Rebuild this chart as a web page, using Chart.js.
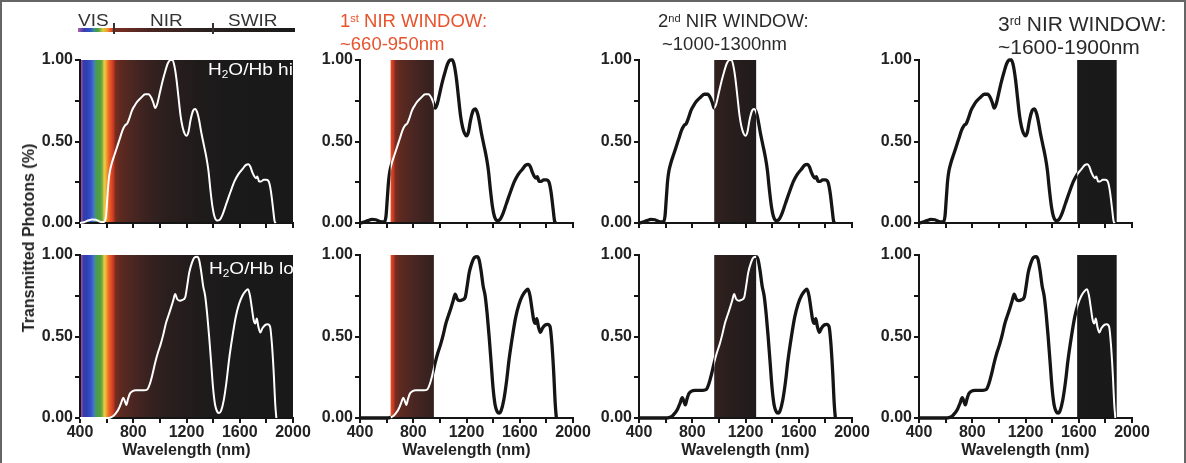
<!DOCTYPE html>
<html><head><meta charset="utf-8">
<script src="https://cdn.jsdelivr.net/npm/chart.js@4.4.1/dist/chart.umd.min.js"></script>
<style>
html,body{margin:0;padding:0;background:#fff;}
body{width:1186px;height:463px;position:relative;overflow:hidden;font-family:"Liberation Sans",Arial,Helvetica,sans-serif;}
#frame{position:absolute;left:0;top:0;width:1182px;height:470px;border:2px solid #666;}
canvas{position:absolute;}
.t{position:absolute;white-space:nowrap;z-index:5;line-height:1;transform-origin:0 0;}
.t sub{font-size:0.62em;vertical-align:-0.25em;line-height:0;}
.t sup{font-size:0.6em;vertical-align:0.45em;line-height:0;}
.band{position:absolute;z-index:4;}
</style></head><body>
<div id="frame"></div>
<script>
// ---------- data ----------
const wlHi = [400,430,460,490,520,550,580,595,605,615,625,640,660,680,700,720,740,755,770,790,810,830,860,890,915,935,950,965,980,1000,1020,1040,1060,1080,1095,1110,1125,1140,1155,1170,1185,1200,1215,1230,1250,1265,1280,1295,1310,1330,1350,1365,1380,1395,1410,1430,1450,1470,1500,1530,1560,1590,1620,1645,1665,1680,1695,1710,1722,1732,1745,1760,1780,1800,1820,1835,1850,1862,1870];
const transHi = [0,0.005,0.015,0.022,0.02,0.008,0.006,0.04,0.15,0.26,0.32,0.37,0.42,0.47,0.52,0.57,0.60,0.61,0.64,0.69,0.72,0.745,0.77,0.79,0.79,0.77,0.74,0.705,0.73,0.80,0.87,0.93,0.98,1.00,1.00,0.96,0.88,0.77,0.66,0.59,0.55,0.535,0.56,0.63,0.69,0.70,0.68,0.63,0.56,0.48,0.40,0.32,0.20,0.10,0.04,0.015,0.02,0.05,0.12,0.19,0.255,0.30,0.33,0.355,0.36,0.345,0.31,0.285,0.275,0.285,0.255,0.255,0.265,0.265,0.25,0.19,0.09,0.01,0];
const wlLo = [400,600,625,650,670,690,710,725,738,748,760,775,795,820,850,880,905,925,945,965,985,1005,1025,1045,1065,1085,1100,1115,1130,1150,1170,1190,1205,1220,1240,1260,1280,1295,1310,1325,1340,1355,1370,1385,1400,1415,1430,1445,1460,1480,1500,1520,1545,1570,1595,1620,1645,1662,1677,1690,1705,1717,1728,1740,1755,1770,1790,1810,1828,1842,1855,1867,1875];
const transLo = [0,0,0.002,0.012,0.03,0.055,0.095,0.125,0.10,0.08,0.115,0.15,0.165,0.17,0.17,0.17,0.175,0.21,0.27,0.34,0.40,0.45,0.51,0.58,0.63,0.68,0.72,0.76,0.73,0.72,0.725,0.74,0.81,0.89,0.95,0.985,0.99,0.97,0.90,0.81,0.75,0.64,0.50,0.34,0.18,0.08,0.04,0.03,0.045,0.11,0.22,0.36,0.50,0.62,0.70,0.75,0.78,0.79,0.75,0.68,0.60,0.58,0.61,0.56,0.525,0.55,0.57,0.575,0.56,0.45,0.28,0.08,0];
const xTickLabels = [400, 800, 1200, 1600, 2000];
const yTickLabels = [0, 0.5, 1];
const windowRanges = [[400, 2000], [630, 955], [965, 1280], [1588, 1885]];
const windowTitles = [null, ['1<sup>st</sup> NIR WINDOW:', '~660-950nm'], ['2<sup>nd</sup> NIR WINDOW:', '~1000-1300nm'], ['3<sup>rd</sup> NIR WINDOW:', '~1600-1900nm']];
const rowLabels = ['H<sub>2</sub>O/Hb hi', 'H<sub>2</sub>O/Hb lo'];
const bandNames = ['VIS', 'NIR', 'SWIR'];

// ---------- styles ----------
const SPECTRUM = [
 [400,'#a8559e'],[415,'#7a4aa8'],[425,'#3e3aa6'],[450,'#2c3fb4'],[480,'#3352c4'],[500,'#4a6cc8'],[512,'#3f8f96'],[525,'#4a9a4a'],[555,'#55a040'],[570,'#8ab040'],[580,'#e0cf48'],[592,'#f2b838'],[605,'#ee8a2a'],[620,'#e8602a'],[640,'#dc4324'],[655,'#b8361f'],[665,'#7a2c20'],[700,'#5e2a20'],[800,'#4a2622'],[900,'#3a2220'],[1000,'#2e201e'],[1150,'#261d1c'],[1300,'#1f1b1b'],[1500,'#1b1a1a'],[2000,'#191919']];
const COL_LEFT = [80, 360, 639, 919];
const ROW_TOP = [60, 255];
const PLOT_W = 213, PLOT_H = 163;
const INK = '#151515', TXT = '#222222';
const FONT = '"Liberation Sans", Arial, sans-serif';

function spectrumGradient(ctx, xs) {
  const x0 = xs.getPixelForValue(400), x1 = xs.getPixelForValue(2000);
  const g = ctx.createLinearGradient(x0, 0, x1, 0);
  SPECTRUM.forEach(([w, c]) => g.addColorStop((w - 400) / 1600, c));
  return g;
}

const bgPlugin = {
  id: 'bg',
  beforeDraw(chart) {
    const {ctx, chartArea: a, scales: {x}} = chart;
    const win = chart.options.plugins.bg.win;
    const l = x.getPixelForValue(win[0]), r = x.getPixelForValue(win[1]);
    ctx.save();
    ctx.fillStyle = spectrumGradient(ctx, x);
    ctx.fillRect(l, a.top, r - l, a.bottom - a.top);
    ctx.restore();
  },
  beforeDatasetDraw(chart, args) {
    const {ctx, scales: {x}} = chart;
    const win = chart.options.plugins.bg.win;
    const l = x.getPixelForValue(win[0]), r = x.getPixelForValue(win[1]);
    ctx.save();
    ctx.beginPath();
    if (args.index === 0) {
      ctx.rect(0, 0, chart.width, chart.height);
      ctx.rect(l, 0, r - l, chart.height);
      ctx.clip('evenodd');
    } else {
      ctx.rect(l, 0, r - l, chart.height);
      ctx.clip();
    }
  },
  afterDatasetDraw(chart) { chart.ctx.restore(); }
};

function makePanel(col, row) {
  const WY = 60, PT = 14, PR = 28, PB = 4;
  const HX = row === 0 ? 8 : 42;
  const w = WY + PLOT_W + PR, h = PT + PLOT_H + HX + PB;
  const c = document.createElement('canvas');
  c.width = w; c.height = h;
  c.style.width = w + 'px'; c.style.height = h + 'px';
  c.style.left = (COL_LEFT[col] - WY) + 'px';
  c.style.top = (ROW_TOP[row] - PT) + 'px';
  document.body.appendChild(c);
  const wl = row === 0 ? wlHi : wlLo, tr = row === 0 ? transHi : transLo;
  const pts = wl.map((x, i) => ({x, y: tr[i]}));
  const base = {data: pts, pointRadius: 0, fill: false, cubicInterpolationMode: 'monotone', clip: false};
  const tickFont = {family: FONT, size: 16, weight: 'bold'};
  new Chart(c, {
    type: 'line',
    data: {datasets: [
      Object.assign({}, base, {borderColor: INK, borderWidth: 3.3}),
      Object.assign({}, base, {borderColor: '#ffffff', borderWidth: 2})
    ]},
    options: {
      responsive: false, animation: false, devicePixelRatio: 1,
      layout: {padding: {left: 0, top: PT, right: PR, bottom: PB}},
      plugins: {legend: {display: false}, tooltip: {enabled: false}, bg: {win: windowRanges[col]}},
      scales: {
        x: {type: 'linear', min: 400, max: 2000,
          afterFit: s => { s.height = HX; },
          ticks: {stepSize: 200, autoSkip: false, maxRotation: 0, display: row === 1, padding: 0,
            color: TXT, font: tickFont, callback: v => xTickLabels.includes(v) ? String(v) : ''},
          grid: {drawOnChartArea: false, drawTicks: true, tickLength: 5, color: INK, lineWidth: 2},
          border: {display: true, color: INK, width: 2},
          title: {display: row === 1, text: 'Wavelength (nm)', color: TXT, font: tickFont, padding: {top: 0, bottom: 0}}
        },
        y: {min: 0, max: 1,
          afterFit: s => { s.width = WY; },
          ticks: {stepSize: 0.25, padding: 2, color: TXT, font: tickFont,
            callback: v => yTickLabels.includes(v) ? v.toFixed(2) : ''},
          grid: {drawOnChartArea: false, drawTicks: true, tickLength: 5, color: INK, lineWidth: 2},
          border: {display: true, color: INK, width: 2}
        }
      }
    },
    plugins: [bgPlugin]
  });
}

for (let r = 0; r < 2; r++) for (let c = 0; c < 4; c++) makePanel(c, r);

function addText(html, left, top, size, color, extra) {
  const d = document.createElement('div');
  d.className = 't';
  d.innerHTML = html;
  d.style.left = left + 'px'; d.style.top = top + 'px';
  d.style.fontSize = size + 'px'; d.style.color = color;
  if (extra) Object.assign(d.style, extra);
  document.body.appendChild(d);
  return d;
}

// window titles
const titleGeom = [null, {l: 340, t: 12, s: 18.5, c: '#e8522c'}, {l: 658, t: 12, s: 18.5, c: '#2a2a2a'}, {l: 998, t: 12.5, s: 21, c: '#2a2a2a'}];
for (let i = 1; i < 4; i++) {
  const g = titleGeom[i];
  addText(windowTitles[i][0], g.l, g.t, g.s, g.c);
  addText(windowTitles[i][1], g.l + (i === 2 ? 4 : 0), g.t + 23, g.s, g.c);
}
// in-panel labels
addText(rowLabels[0], 208, 61, 17, '#ffffff', {transform: 'scaleX(1.12)'});
addText(rowLabels[1], 209, 259.5, 17, '#ffffff', {transform: 'scaleX(1.12)'});
// y axis title
addText('Transmitted Photons (%)', 29, 238, 16, TXT, {fontWeight: 'bold', transformOrigin: '50% 50%', transform: 'translate(-50%,-50%) rotate(-90deg)'});

// VIS / NIR / SWIR band bar
const bandPos = [78, 150, 228];
bandNames.forEach((n, i) => addText(n, bandPos[i], 11.5, 16.5, '#333', {transform: 'scaleX(1.15)'}));
const bar = document.createElement('div');
bar.className = 'band';
Object.assign(bar.style, {left: '78px', top: '28px', width: '217px', height: '4px',
  background: 'linear-gradient(to right,#b060a8 0px,#3a3ab0 6px,#3050c8 12px,#3a9090 16px,#4aa040 20px,#d8d040 25px,#f0a030 29px,#e8502a 33px,#7a2e22 37px,#4a2622 70px,#2a2020 130px,#1a1a1a 217px)'});
document.body.appendChild(bar);
[114, 213].forEach(x => {
  const t = document.createElement('div');
  t.className = 'band';
  Object.assign(t.style, {left: (x - 1) + 'px', top: '23px', width: '2px', height: '11px', background: '#333'});
  document.body.appendChild(t);
});
</script>
</body></html>
